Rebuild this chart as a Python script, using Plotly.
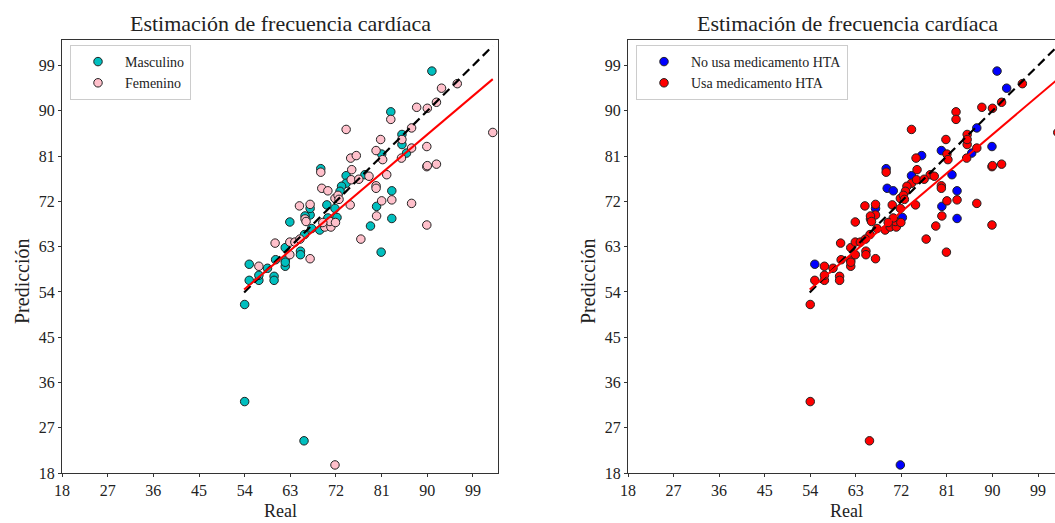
import plotly.graph_objects as go

# ---------------- data ----------------
real = [54.0, 54.9, 54.9, 56.8, 56.8, 56.8, 58.5, 59.8, 59.8, 60.0,
        60.1, 62.0, 62.0, 62.0, 62.9, 63.9, 62.9, 62.9, 65.0, 65.0,
        66.9, 65.8, 64.8, 66.9, 66.9, 65.9, 65.9, 67.2, 68.8, 69.8,
        71.0, 70.2, 71.8, 71.8, 74.8, 69.2, 70.4, 76.9, 66.9, 70.8,
        70.4, 69.4, 74.0, 82.8, 82.8, 87.9, 85.0, 85.0, 85.0, 80.8,
        79.9, 81.0, 81.2, 74.9, 76.0, 75.1, 69.0, 69.0, 74.0, 74.0,
        75.0, 73.1, 72.8, 72.4, 72.6, 77.7, 76.5, 78.5, 79.9, 79.9,
        82.0, 83.0, 83.0, 80.0, 80.0, 83.0, 78.8, 86.9, 89.9, 89.9,
        89.9, 81.0, 80.9, 72.2, 90.9, 92.8, 95.9, 91.8, 90.0, 102.9,
        86.9, 86.9, 85.9, 84.9, 91.8, 90.0, 54.0, 65.7, 71.8, 64.9,
        66.1, 71.9, 62.0]
pred = [51.5, 59.5, 56.3, 59.1, 56.3, 57.3, 58.7, 57.1, 56.3, 63.7,
        60.4, 62.8, 59.1, 60.3, 63.9, 63.9, 61.4, 67.9, 62.1, 61.4,
        60.6, 65.4, 71.1, 71.4, 69.3, 68.5, 69.1, 66.6, 66.3, 66.9,
        66.9, 71.3, 70.6, 72.6, 71.3, 74.6, 74.1, 64.5, 70.6, 68.0,
        68.7, 67.8, 86.3, 89.8, 88.3, 90.7, 85.3, 83.3, 84.3, 84.3,
        82.1, 81.4, 80.3, 80.6, 81.1, 78.3, 78.5, 77.8, 77.1, 75.6,
        76.3, 75.0, 74.0, 73.2, 72.4, 77.3, 76.4, 77.0, 75.1, 74.6,
        77.3, 74.1, 72.3, 71.0, 69.1, 68.6, 67.1, 71.6, 82.9, 78.9,
        67.3, 72.1, 61.9, 68.8, 97.9, 94.5, 95.4, 91.7, 90.5, 85.7,
        86.6, 82.6, 81.6, 80.6, 79.4, 79.1, 32.2, 24.4, 19.6, 64.5,
        68.0, 67.8, 59.9]
sexo = ["M", "M", "M", "F", "M", "M", "M", "M", "M", "F",
        "M", "M", "M", "M", "F", "F", "F", "M", "M", "M",
        "F", "M", "F", "F", "M", "F", "M", "M", "M", "F",
        "F", "M", "M", "F", "F", "F", "F", "F", "M", "F",
        "M", "F", "F", "M", "F", "F", "M", "M", "F", "F",
        "F", "M", "F", "F", "F", "F", "M", "F", "M", "M",
        "F", "M", "M", "F", "F", "M", "F", "F", "F", "F",
        "F", "M", "F", "M", "F", "M", "M", "F", "F", "F",
        "F", "F", "M", "M", "M", "F", "F", "F", "F", "F",
        "F", "F", "M", "F", "F", "F", "M", "M", "F", "F",
        "F", "F", "M"]
hta = [1, 0, 1, 1, 1, 1, 1, 1, 1, 1,
       1, 1, 1, 1, 1, 1, 1, 1, 1, 1,
       1, 1, 1, 1, 1, 1, 1, 1, 1, 1,
       1, 1, 1, 1, 1, 0, 0, 1, 0, 1,
       1, 1, 1, 1, 1, 1, 1, 1, 1, 1,
       0, 1, 1, 1, 0, 1, 0, 1, 0, 1,
       1, 1, 1, 1, 1, 1, 1, 1, 1, 1,
       0, 0, 1, 0, 1, 0, 1, 1, 0, 1,
       1, 1, 1, 0, 0, 0, 1, 1, 1, 1,
       0, 1, 0, 1, 1, 1, 1, 1, 0, 1,
       1, 1, 1]

fit_x = [53.9, 102.9]          # regression line end points
fit_y = [54.5, 96.3]
ident = [53.9, 102.9]          # y = x reference line

tick_vals = [18, 27, 36, 45, 54, 63, 72, 81, 90, 99]
titulo = "Estimación de frecuencia cardíaca"
sex_groups = [("M", "Masculino", "#00BFBF"), ("F", "Femenino", "#FFC0CB")]
hta_groups = [(0, "No usa medicamento HTA", "#0000FF"), (1, "Usa medicamento HTA", "#FF0000")]

SERIF = "Liberation Serif, Times New Roman, serif"

fig = go.Figure()

# ---- left plot: by sex
for key, name, col in sex_groups:
    xs = [r for r, s in zip(real, sexo) if s == key]
    ys = [p for p, s in zip(pred, sexo) if s == key]
    fig.add_trace(go.Scatter(x=xs, y=ys, mode="markers", name=name,
                             marker=dict(color=col, size=8.5, line=dict(color="#222", width=1)),
                             xaxis="x", yaxis="y", legend="legend"))
fig.add_trace(go.Scatter(x=ident, y=ident, mode="lines", showlegend=False,
                         line=dict(color="black", width=2.2, dash="9px,5px"), xaxis="x", yaxis="y"))
fig.add_trace(go.Scatter(x=fit_x, y=fit_y, mode="lines", showlegend=False,
                         line=dict(color="red", width=2), xaxis="x", yaxis="y"))

# ---- right plot: by HTA medication
for key, name, col in hta_groups:
    xs = [r for r, h in zip(real, hta) if h == key]
    ys = [p for p, h in zip(pred, hta) if h == key]
    fig.add_trace(go.Scatter(x=xs, y=ys, mode="markers", name=name,
                             marker=dict(color=col, size=8.5, line=dict(color="#222", width=1)),
                             xaxis="x2", yaxis="y2", legend="legend2"))
fig.add_trace(go.Scatter(x=ident, y=ident, mode="lines", showlegend=False,
                         line=dict(color="black", width=2.2, dash="9px,5px"), xaxis="x2", yaxis="y2"))
fig.add_trace(go.Scatter(x=fit_x, y=fit_y, mode="lines", showlegend=False,
                         line=dict(color="red", width=2), xaxis="x2", yaxis="y2"))

W, H = 1055, 523
ML, MT, MB = 62, 40, 50
PW, PH = W - ML, H - MT - MB

axis_common = dict(showgrid=False, zeroline=False, showline=True, linecolor="#333", linewidth=1,
                   ticks="outside", ticklen=3, tickcolor="#333", tickvals=tick_vals,
                   tickfont=dict(family=SERIF, size=16, color="#222"))

fig.update_layout(
    width=W, height=H,
    margin=dict(l=ML, r=0, t=MT, b=MB),
    paper_bgcolor="white", plot_bgcolor="white",
    font=dict(family=SERIF, color="#222"),
    xaxis=dict(domain=[0, 436 / PW], range=[18, 103.93], mirror=True, anchor="y", **axis_common),
    yaxis=dict(domain=[0, 1], range=[18, 104.08], mirror=True, anchor="x", **axis_common),
    xaxis2=dict(domain=[566 / PW, 1], range=[18, 102.35], mirror=True, anchor="y2", **axis_common),
    yaxis2=dict(domain=[0, 1], range=[18, 104.08], mirror=False, anchor="x2", **axis_common),
    legend=dict(x=(70 - ML) / PW, y=1 - 5 / PH, xanchor="left", yanchor="top",
                bgcolor="white", bordercolor="#ccc", borderwidth=1, itemwidth=44,
                font=dict(family=SERIF, size=14, color="#222"), tracegroupgap=2),
    legend2=dict(x=(636 - ML) / PW, y=1 - 5 / PH, xanchor="left", yanchor="top",
                 bgcolor="white", bordercolor="#ccc", borderwidth=1, itemwidth=44,
                 font=dict(family=SERIF, size=14, color="#222"), tracegroupgap=2),
    showlegend=True,
)

ann = []
for cx in [(280 - ML) / PW, (847 - ML) / PW]:
    ann.append(dict(text=titulo, x=cx, y=1, xref="paper", yref="paper", xanchor="center",
                    yanchor="bottom", yshift=2, showarrow=False,
                    font=dict(family=SERIF, size=22, color="#222")))
for cx in [(280 - ML) / PW, (846 - ML) / PW]:
    ann.append(dict(text="Real", x=cx, y=(473 - 523) / PH, xref="paper", yref="paper",
                    xanchor="center", yanchor="bottom", showarrow=False,
                    font=dict(family=SERIF, size=18, color="#222")))
for px in [22, 588]:
    ann.append(dict(text="Predicción", x=(px - ML) / PW, y=(473 - 281) / PH, xref="paper",
                    yref="paper", xanchor="center", yanchor="middle", textangle=-90,
                    showarrow=False, font=dict(family=SERIF, size=20, color="#222")))
fig.update_layout(annotations=ann)

fig.write_html("out.html")
